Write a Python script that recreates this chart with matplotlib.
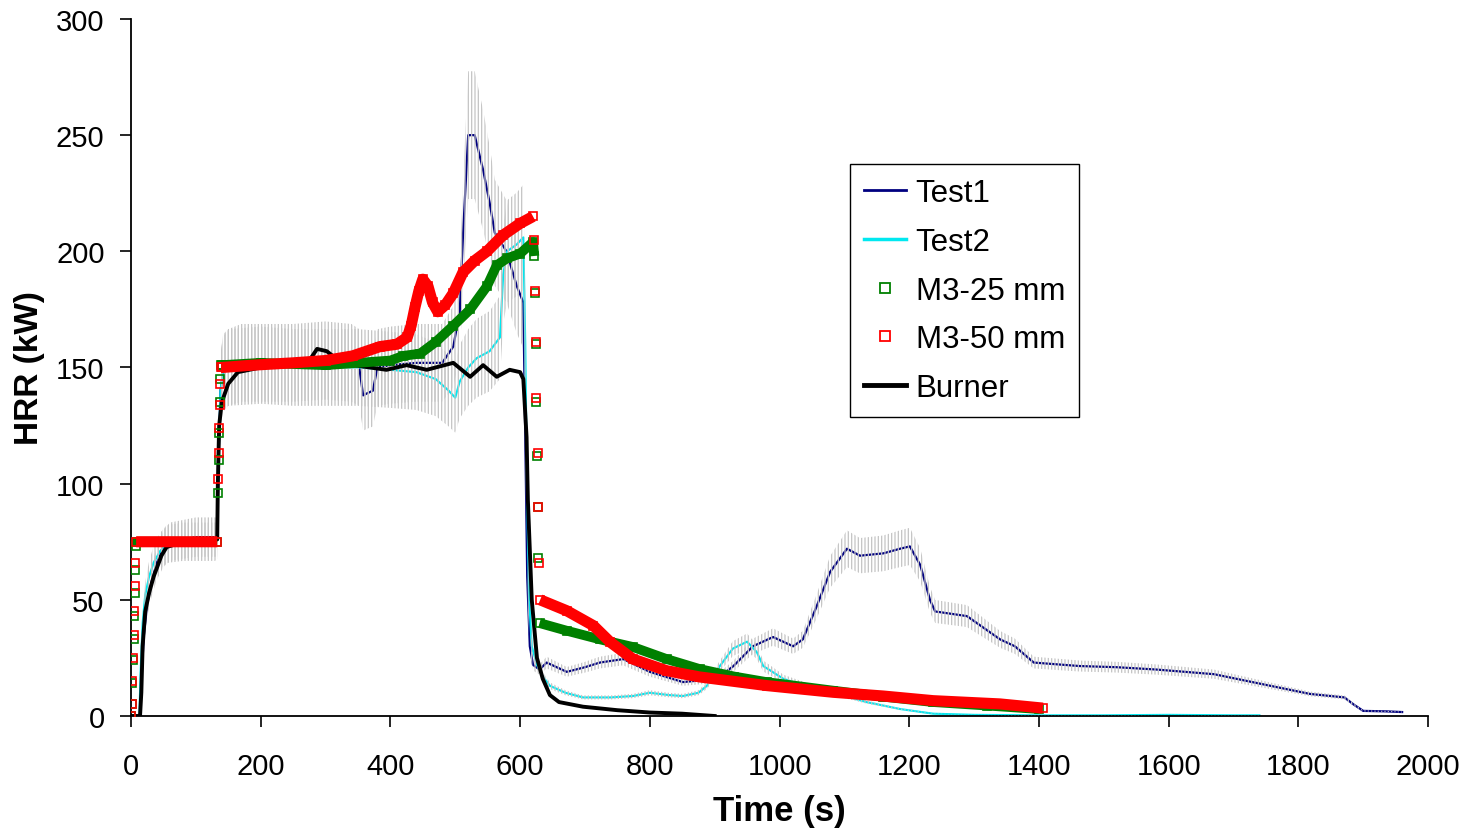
import numpy as np
import matplotlib
matplotlib.use("Agg")
import matplotlib.pyplot as plt
from matplotlib.lines import Line2D

plt.rcParams['font.family'] = ['Liberation Sans', 'DejaVu Sans']
plt.rcParams['hatch.color'] = '#c4c4c4'
plt.rcParams['hatch.linewidth'] = 0.9

# -----------------------------
# data (time s, HRR kW)
# -----------------------------
test1 = [(0, 0), (14, 0), (16, 15), (20, 35), (25, 48), (32, 58), (40, 66), (50, 72),
         (60, 75), (80, 76), (100, 77), (120, 77), (133, 77), (135, 110), (138, 140),
         (142, 147), (150, 150), (170, 152), (200, 152), (250, 152), (300, 153),
         (340, 152), (352, 150), (358, 138), (365, 139), (373, 140), (380, 150),
         (400, 151), (440, 152), (480, 152), (497, 159), (507, 174), (512, 207),
         (520, 250), (530, 250), (543, 235), (553, 221), (561, 208), (579, 200),
         (595, 185), (605, 178), (608, 120), (611, 60), (615, 30), (620, 22),
         (630, 20), (641, 23), (672, 19), (700, 21), (723, 23), (759, 24.5),
         (800, 19), (851, 14.6), (903, 16), (929, 21.5), (959, 30), (990, 34),
         (1021, 30), (1036, 33), (1057, 47), (1078, 62), (1104, 72), (1124, 69),
         (1160, 70), (1186, 72), (1201, 73), (1217, 65), (1232, 50), (1240, 45),
         (1289, 43), (1340, 33), (1363, 30), (1392, 23), (1463, 21.5), (1520, 21),
         (1581, 20), (1670, 18), (1729, 14.6), (1818, 9.5), (1871, 8), (1885, 5),
         (1900, 2.2), (1935, 2), (1960, 1.7)]

test2 = [(0, 0), (13, 0), (15, 20), (18, 40), (22, 52), (28, 60), (35, 66), (45, 71),
         (55, 74), (80, 75), (130, 75), (133, 76), (135, 110), (138, 140), (142, 148),
         (150, 150), (200, 151), (250, 150), (300, 150), (350, 150), (400, 149),
         (440, 148), (470, 145), (490, 140), (500, 137), (507, 144), (520, 150),
         (533, 154), (553, 157), (569, 163), (574, 190), (580, 200), (595, 203),
         (605, 206), (608, 160), (611, 90), (614, 50), (618, 30), (626, 22),
         (635, 17), (646, 13), (670, 10), (697, 8), (740, 8), (774, 8.6), (800, 10),
         (830, 9), (851, 8.6), (875, 10), (888, 13), (908, 21.5), (928, 29),
         (950, 32), (965, 27.5), (975, 21.5), (1006, 16), (1040, 13), (1083, 10),
         (1134, 6), (1186, 3), (1237, 1), (1300, 0.5), (1400, 0.3), (1500, 0.3),
         (1600, 0.5), (1700, 0.3), (1740, 0.3)]

m3_25 = [(0, 0), (1, 5), (2, 14), (3, 24), (4, 33), (5, 43), (6, 53), (7, 63), (8, 73),
         (9, 75), (60, 75), (100, 75), (133, 75), (134, 96), (135, 110), (136, 122),
         (137, 135), (138, 145), (139, 151), (140, 151), (200, 152), (300, 151),
         (400, 153), (420, 155), (446, 156), (470, 161), (497, 168), (523, 175),
         (549, 185), (564, 194), (580, 197), (600, 199), (620, 204), (622, 198),
         (623, 182), (624, 160), (625, 135), (626, 112), (627, 90), (628, 68),
         (630, 40), (672, 36.7), (723, 33), (774, 29.7), (826, 24.5), (877, 20.2),
         (930, 17), (980, 14.6), (1083, 10.9), (1160, 8.3), (1237, 6), (1320, 4.5),
         (1400, 3)]

m3_50 = [(0, 0), (1, 5), (2, 15), (3, 25), (4, 35), (5, 45), (6, 56), (7, 66), (8, 75),
         (30, 75), (60, 75), (100, 75), (133, 75), (134, 102), (135, 113), (136, 124),
         (137, 134), (138, 143), (139, 150), (140, 150), (188, 151), (250, 152),
         (300, 153), (342, 155), (384, 159), (410, 160), (426, 163), (432, 168),
         (438, 176), (444, 183), (450, 188), (458, 185), (465, 178), (473, 174),
         (485, 177), (497, 182), (512, 191), (530, 196), (549, 200), (574, 207),
         (600, 212), (620, 215), (622, 205), (623, 183), (624, 161), (625, 137),
         (627, 113), (628, 90), (629, 66), (631, 50), (672, 45.3), (713, 38.9),
         (739, 31.8), (774, 24.5), (826, 19.5), (877, 16.8), (980, 13.1),
         (1083, 10.2), (1160, 8.6), (1237, 6.6), (1340, 5.2), (1406, 3.4)]

burner = [(0, 0), (14, 0), (16, 10), (18, 30), (22, 45), (28, 53), (35, 60), (47, 69),
          (55, 72.7), (70, 74), (100, 75), (133, 76), (134, 100), (136, 125),
          (140, 135), (150, 143), (165, 148), (200, 150), (250, 152), (275, 153),
          (287, 158), (302, 157), (320, 153), (343, 151), (394, 149), (425, 151),
          (456, 149), (497, 152), (523, 146), (543, 151), (564, 146), (584, 149),
          (600, 148), (605, 145), (610, 120), (612, 93), (618, 50), (626, 25),
          (635, 16), (646, 9), (660, 6), (697, 4), (750, 2.5), (800, 1.5),
          (850, 1), (900, 0)]

err_frac = 0.11  # grey error bars on the two tests


def arr(pairs):
    a = np.array(pairs, dtype=float)
    return a[:, 0], a[:, 1]


def band_line(t, y, max_slope=3.0):
    # break the thick band where the series jumps (steps are drawn as loose squares)
    tt, yy = [t[0]], [y[0]]
    for i in range(1, len(t)):
        if abs(y[i] - y[i - 1]) / max(t[i] - t[i - 1], 1e-9) > max_slope:
            tt.append(np.nan)
            yy.append(np.nan)
        tt.append(t[i])
        yy.append(y[i])
    return np.array(tt), np.array(yy)


fig = plt.figure(figsize=(14.68, 8.29), dpi=100)
ax = fig.add_axes([0.0892, 0.1351, 0.8836, 0.8408])

t1, y1 = arr(test1)
t2, y2 = arr(test2)
ax.plot(t1, y1, color='#000080', lw=1.6, zorder=2)
ax.plot(t2, y2, color='#00e8f0', lw=1.5, zorder=2)

# error bars drawn over the test lines, like the original sheet
for t, y in [(t1, y1), (t2, y2)]:
    ax.fill_between(t, y * (1 - err_frac), y * (1 + err_frac), facecolor='none',
                    edgecolor='#c4c4c4', hatch='|||||', linewidth=0, zorder=3)

tb, yb = arr(burner)
ax.plot(tb, yb, color='black', lw=2.8, zorder=4)

for data, col, lw in [(m3_25, '#008000', 7), (m3_50, '#ff0000', 8)]:
    t, y = arr(data)
    lt, ly = band_line(t, y)
    ax.plot(lt, ly, color=col, lw=lw, solid_capstyle='butt', zorder=5)
    ax.plot(t, y, ls='none', marker='s', ms=6, mfc='none', mec=col, mew=1.2, zorder=5)

ax.set_xlim(0, 2000)
ax.set_ylim(0, 300)
ax.set_xticks(np.arange(0, 2001, 200))
ax.set_yticks(np.arange(0, 301, 50))
for s in ['top', 'right']:
    ax.spines[s].set_visible(False)
for s in ['left', 'bottom']:
    ax.spines[s].set_linewidth(1.3)
ax.tick_params(axis='both', direction='out', length=8, width=1.2, labelsize=21)
ax.tick_params(axis='x', pad=18)
ax.tick_params(axis='y', pad=11)
ax.set_xlabel("Time (s)", fontsize=25, fontweight='bold', labelpad=10)
ax.set_ylabel("HRR (kW)", fontsize=24, fontweight='bold', labelpad=8)

handles = [
    Line2D([], [], color='#000080', lw=2),
    Line2D([], [], color='#00e8f0', lw=2.5),
    Line2D([], [], ls='none', marker='s', ms=7, mfc='none', mec='#008000', mew=1.3),
    Line2D([], [], ls='none', marker='s', ms=7, mfc='none', mec='#ff0000', mew=1.3),
    Line2D([], [], color='black', lw=3.5),
]
labels = ["Test1", "Test2", "M3-25 mm", "M3-50 mm", "Burner"]
leg = ax.legend(handles, labels, loc='upper left', bbox_to_anchor=(0.5544, 0.792),
                fontsize=22.5, frameon=True, fancybox=False, framealpha=1,
                edgecolor='black', handlelength=1.35, handletextpad=0.3,
                labelspacing=0.6, borderpad=0.45, borderaxespad=0)
leg.get_frame().set_linewidth(1.0)
leg.set_zorder(10)

fig.savefig("out.png", dpi=100)
